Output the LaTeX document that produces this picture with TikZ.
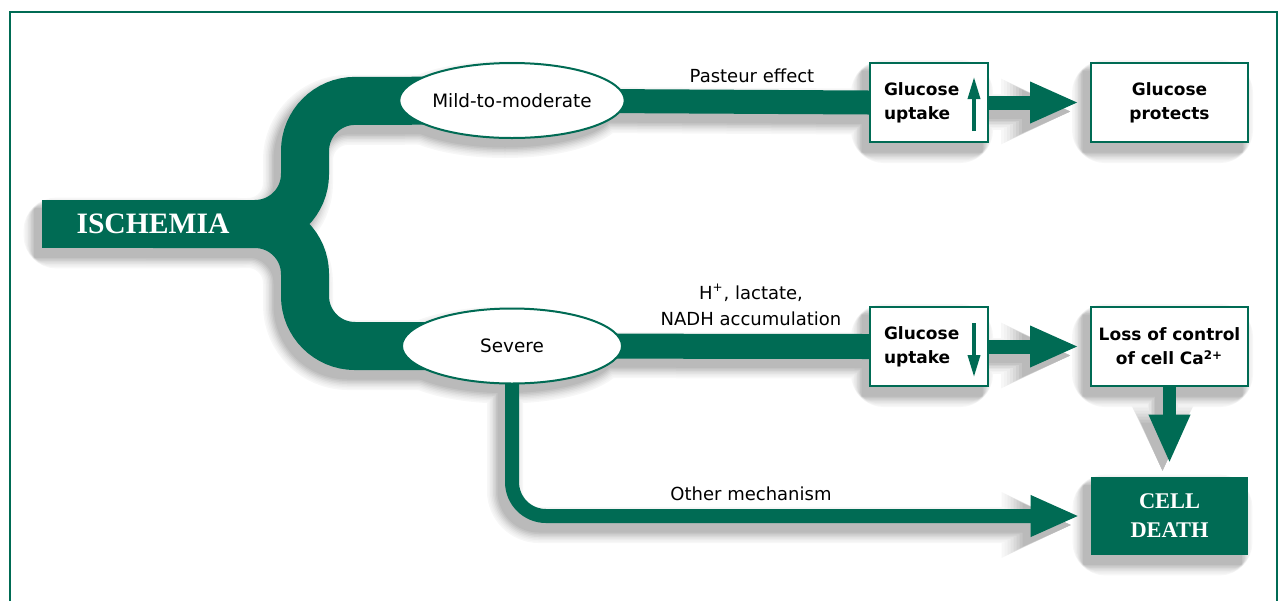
\documentclass[tikz,border=0pt]{standalone}
\usepackage{fontspec}
\setmainfont{DejaVu Sans}
\newfontfamily\serifb{Liberation Serif}
\usetikzlibrary{arrows.meta,shapes.geometric,calc}
\definecolor{grn}{RGB}{0,107,84}
\pgfdeclarelayer{shadow}
\pgfdeclarelayer{strips}
\pgfsetlayers{shadow,strips,main}
\begin{document}
\begin{tikzpicture}[x=0.5pt,y=-0.5pt,
  box/.style={draw=grn, line width=1pt, fill=white, minimum width=59pt, minimum height=39.5pt, inner sep=0pt, font=\bfseries\fontsize{8.5}{12}\selectfont},
  wbox/.style={box, minimum width=78.5pt, align=center},
  ell/.style={ellipse, draw=grn, line width=1pt, fill=white, minimum width=110pt, minimum height=37.5pt, inner sep=0pt, font=\fontsize{9.2}{10}\selectfont},
  lbl/.style={inner sep=0pt, align=center, font=\fontsize{9}{13}\selectfont},
  titlebox/.style={fill=grn, text=white, inner sep=0pt, align=center, font=\serifb\bfseries},
  fat/.style={grn, line width=7pt, -{Triangle[length=24.5pt, width=19pt]}},
  smallarrow/.style={grn, line width=1.75pt, -{Triangle[length=11pt, width=6pt]}},
]
\useasboundingbox (0,0) rectangle (1280,601);
\draw[grn, line width=1.4pt] (10,601) -- (10,12) -- (1277,12) -- (1277,601);

% nodes
\node[titlebox, minimum width=111pt, minimum height=24pt, font=\serifb\bfseries\fontsize{14.8}{16}\selectfont] (isch) at (153,224) {ISCHEMIA};
\node[ell] (mild) at (512,100.5) {Mild-to-moderate};
\node[ell] (sev) at (512,346) {Severe};
\node[box, text width=45pt, align=left] (gu1) at (929,102.5) {Glucose\\uptake};
\node[box, text width=45pt, align=left] (gu2) at (929,346.5) {Glucose\\uptake};
\node[wbox] (gp) at (1169.5,102.5) {Glucose\\protects};
\node[wbox] (loss) at (1169.5,346.5) {Loss of control\\of cell Ca\textsuperscript{2+}};
\node[titlebox, minimum width=78.5pt, minimum height=39pt, font=\serifb\bfseries\fontsize{11.2}{14.5}\selectfont] (cd) at (1169.5,516) {CELL\\DEATH};

\node[lbl, anchor=base] (past) at (752,82) {Pasteur effect};
\node[lbl, anchor=south] (hlac) at (751,326) {H\textsuperscript{+}, lactate,\\NADH accumulation};
\node[lbl, anchor=base] (oth) at (751,500) {Other mechanism};

% small arrows inside boxes
\draw[smallarrow] ($(gu1.south east)+(-15,-12)$) -- ($(gu1.north east)+(-15,15)$);
\draw[smallarrow] ($(gu2.north east)+(-15,17)$) -- ($(gu2.south east)+(-15,-10)$);

% strips and arrows
\begin{pgfonlayer}{strips}
\draw[grn, line width=24pt, rounded corners=25pt]
  (isch.center) -- (305,224) -- (305,101) -- (mild.center)
  (isch.center) -- (305,224) -- (305,346) -- (sev.center);
\draw[grn, line width=12pt] (mild.center) -- (gu1.west);
\draw[grn, line width=12.5pt] (sev.center) -- (gu2.west);
\draw[fat] (gu1.east) -- ($(gp.west)+(-11,0)$);
\draw[fat] (gu2.east) -- ($(loss.west)+(-11,0)$);
\draw[fat, line width=6.5pt] (loss.south) -- ($(cd.north)+(0,-13)$);
\draw[fat, rounded corners=17pt] (sev.center) -- (sev.center |- cd.west) -- ($(cd.west)+(-11,0)$);
\end{pgfonlayer}

% shadows (soft, built from stacked grey layers)
\begin{pgfonlayer}{shadow}
\begin{scope}[transform canvas={shift={(-3.5pt,-4.5pt)}}]
\foreach \e/\c in {22/3,19/5,16/8,13/11,10/15,7/19,4/23,1/27}{
  \pgfmathsetmacro\ew{\e/2}
  \pgfmathsetmacro\lwA{24+\ew}
  \pgfmathsetmacro\lwB{12+\ew}
  \pgfmathsetmacro\lwC{7+\ew}
  \pgfmathsetmacro\tl{24.5+\ew}
  \pgfmathsetmacro\tw{19+\ew}
  \begin{scope}[draw=black!\c, fill=black!\c]
  \draw[line width=\lwA pt, rounded corners=25pt]
    (isch.center) -- (305,224) -- (305,101) -- (mild.center)
    (isch.center) -- (305,224) -- (305,346) -- (sev.center);
  \draw[line width=\lwB pt] (mild.center) -- (gu1.west) (sev.center) -- (gu2.west);
  \draw[line width=\lwC pt, -{Triangle[length=\tl pt, width=\tw pt]}] (gu1.east) -- ($(gp.west)+(-11,0)$);
  \draw[line width=\lwC pt, -{Triangle[length=\tl pt, width=\tw pt]}] (gu2.east) -- ($(loss.west)+(-11,0)$);
  \draw[line width=\lwC pt, -{Triangle[length=\tl pt, width=\tw pt]}] (loss.south) -- ($(cd.north)+(0,-13)$);
  \draw[line width=\lwC pt, rounded corners=17pt, -{Triangle[length=\tl pt, width=\tw pt]}] (sev.center) -- (sev.center |- cd.west) -- ($(cd.west)+(-11,0)$);
  \filldraw[line width=\ew pt, rounded corners=\ew pt] (isch.south west) rectangle (isch.north east);
  \filldraw[line width=\ew pt, rounded corners=\ew pt] (gu1.south west) rectangle (gu1.north east);
  \filldraw[line width=\ew pt, rounded corners=\ew pt] (gu2.south west) rectangle (gu2.north east);
  \filldraw[line width=\ew pt, rounded corners=\ew pt] (gp.south west) rectangle (gp.north east);
  \filldraw[line width=\ew pt, rounded corners=\ew pt] (loss.south west) rectangle (loss.north east);
  \filldraw[line width=\ew pt, rounded corners=\ew pt] (cd.south west) rectangle (cd.north east);
  \filldraw[line width=\ew pt] (mild.center) ellipse [x radius=55pt, y radius=18.75pt];
  \filldraw[line width=\ew pt] (sev.center) ellipse [x radius=55pt, y radius=18.75pt];
  \end{scope}
}
\end{scope}
\end{pgfonlayer}
\end{tikzpicture}
\end{document}
